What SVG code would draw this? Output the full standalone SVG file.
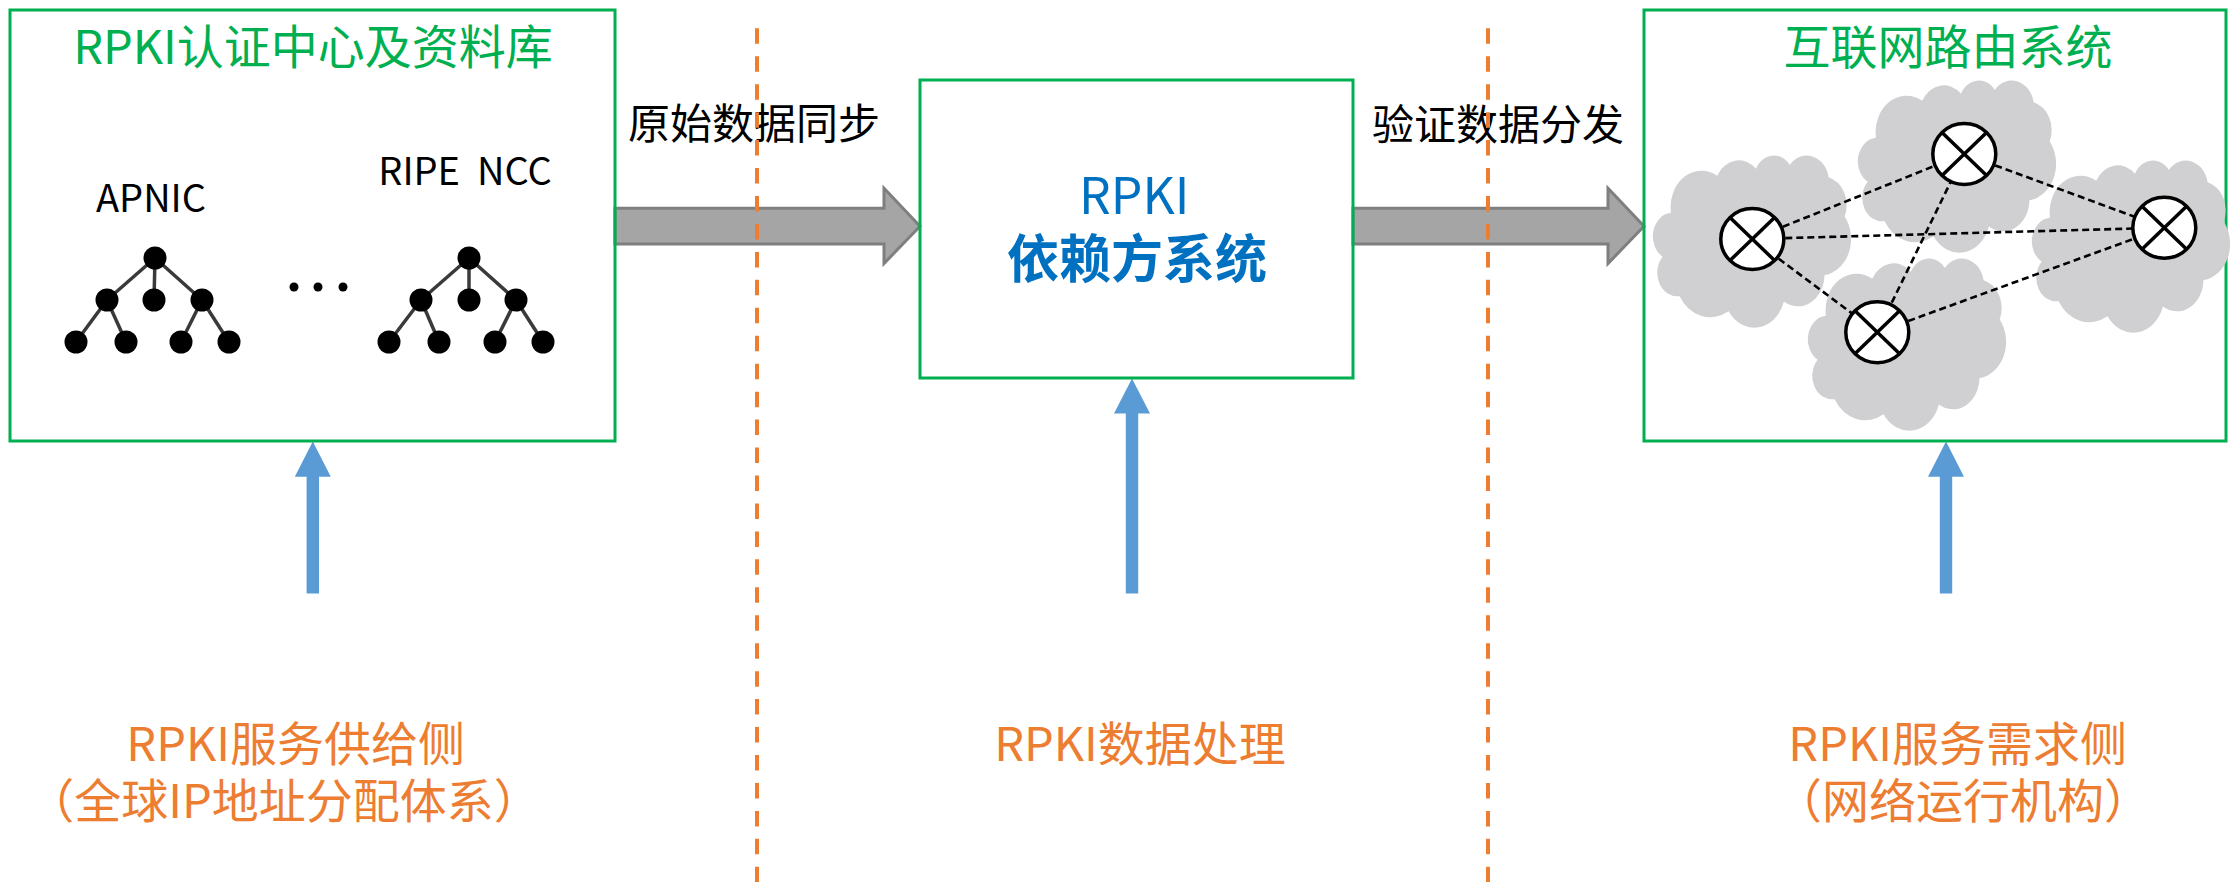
<svg xmlns="http://www.w3.org/2000/svg" xmlns:xlink="http://www.w3.org/1999/xlink" width="2233" height="882" viewBox="0 0 2233 882">
  <style>
    text { font-family: "Noto Sans CJK SC", "Noto Sans", sans-serif; }
    .box { fill: none; stroke: #00b050; stroke-width: 3; }
    .title { fill: #00b050; font-size: 47px; text-anchor: middle; }
    .org { fill: #000; font-size: 38px; text-anchor: middle; }
    .flow { fill: #a5a5a5; stroke: #7f7f7f; stroke-width: 3; stroke-linejoin: miter; }
    .flowlabel { fill: #000; font-size: 42px; text-anchor: middle; }
    .side { fill: #ed7d31; font-size: 47px; text-anchor: middle; }
    .up { fill: #5b9bd5; }
    .divider { stroke: #ed7d31; stroke-width: 4; stroke-dasharray: 15.5 12.45; fill: none; }
    .branch { stroke: #3a3a3a; stroke-width: 3.5; }
    .leaf { fill: #000; }
    .cloud { fill: #d0cfd1; }
    .link { stroke: #000; stroke-width: 2.6; stroke-dasharray: 7 4; fill: none; }
    .router { fill: #fff; stroke: #000; stroke-width: 3.5; }
    .cross { stroke: #000; stroke-width: 3.5; }
  </style>
  <defs>
    <!-- cloud outline, 43200-unit preset geometry scaled to 198 x 172 -->
    <path id="cloud" class="cloud" transform="scale(0.004583 0.003981)"
      d="M 3900 14370
         A 6753 9190 0 0 1 14004.6 5201.6
         A 5333 7267 0 0 1 22457.9 3432.7
         A 4365 5945 0 0 1 29835.1 2481.6
         A 4857 6595 0 0 1 38320.2 5577.0
         A 5333 7273 0 0 1 41820.7 15460.9
         A 6775 9220 0 0 1 37406.7 30204.0
         A 5785 7867 0 0 1 28557.8 36813.9
         A 6752 9215 0 0 1 16480.4 39260.5
         A 7720 10543 0 0 1 5803.8 35465.9
         A 4360 5918 0 0 1 2113.1 25543.3
         A 4345 5945 0 0 1 3863.3 14499.9 Z"/>
    <!-- router symbol: circle with a cross -->
    <g id="router">
      <ellipse class="router" cx="0" cy="0" rx="31.5" ry="30.5"/>
      <line class="cross" x1="-22.3" y1="-21.5" x2="22.3" y2="21.5"/>
      <line class="cross" x1="22.3" y1="-21.5" x2="-22.3" y2="21.5"/>
    </g>
  </defs>

  <rect width="2233" height="882" fill="#fff"/>

  <!-- flows between the three stages -->
  <g id="connectors">
    <polygon class="flow" points="615,208.3 884,208.3 884,188.3 920,226.2 884,263.5 884,244 615,244"/>
    <polygon class="flow" points="1353,208.3 1608,208.3 1608,188.3 1644,226.2 1608,263.5 1608,244 1353,244"/>
    <text class="flowlabel" x="754" y="139">原始数据同步</text>
    <text class="flowlabel" x="1498" y="140">验证数据分发</text>
    <polygon class="up" points="312.8,441.5 330.8,476.8 319,476.8 319,593.5 306.6,593.5 306.6,476.8 294.8,476.8"/>
    <polygon class="up" points="1132,378.5 1150,413.5 1138.2,413.5 1138.2,593.5 1125.8,593.5 1125.8,413.5 1114,413.5"/>
    <polygon class="up" points="1946,441.5 1964,476.8 1952.2,476.8 1952.2,593.5 1939.8,593.5 1939.8,476.8 1928,476.8"/>
  </g>

  <!-- certification authorities and repositories -->
  <g id="ca-repository">
    <rect class="box" x="10" y="10" width="605" height="431"/>
    <text class="title" x="313" y="64" font-size="46">RPKI认证中心及资料库</text>
    <text class="org" x="151" y="212">APNIC</text>
    <text class="org" x="465" y="185" xml:space="preserve">RIPE  NCC</text>
    <g id="tree-apnic">
      <line class="branch" x1="155" y1="258" x2="107" y2="300"/>
      <line class="branch" x1="155" y1="258" x2="154" y2="300"/>
      <line class="branch" x1="155" y1="258" x2="202" y2="300"/>
      <line class="branch" x1="107" y1="300" x2="76" y2="342"/>
      <line class="branch" x1="107" y1="300" x2="126" y2="342"/>
      <line class="branch" x1="202" y1="300" x2="181" y2="342"/>
      <line class="branch" x1="202" y1="300" x2="229" y2="342"/>
      <circle class="leaf" cx="155" cy="258" r="11.5"/>
      <circle class="leaf" cx="107" cy="300" r="11.5"/>
      <circle class="leaf" cx="154" cy="300" r="11.5"/>
      <circle class="leaf" cx="202" cy="300" r="11.5"/>
      <circle class="leaf" cx="76" cy="342" r="11.5"/>
      <circle class="leaf" cx="126" cy="342" r="11.5"/>
      <circle class="leaf" cx="181" cy="342" r="11.5"/>
      <circle class="leaf" cx="229" cy="342" r="11.5"/>
    </g>
    <g id="ellipsis">
      <circle class="leaf" cx="294" cy="287" r="4.5"/>
      <circle class="leaf" cx="318" cy="287" r="4.5"/>
      <circle class="leaf" cx="343" cy="287" r="4.5"/>
    </g>
    <g id="tree-ripe">
      <line class="branch" x1="469" y1="258" x2="421" y2="300"/>
      <line class="branch" x1="469" y1="258" x2="469" y2="300"/>
      <line class="branch" x1="469" y1="258" x2="516" y2="300"/>
      <line class="branch" x1="421" y1="300" x2="389" y2="342"/>
      <line class="branch" x1="421" y1="300" x2="439" y2="342"/>
      <line class="branch" x1="516" y1="300" x2="495" y2="342"/>
      <line class="branch" x1="516" y1="300" x2="543" y2="342"/>
      <circle class="leaf" cx="469" cy="258" r="11.5"/>
      <circle class="leaf" cx="421" cy="300" r="11.5"/>
      <circle class="leaf" cx="469" cy="300" r="11.5"/>
      <circle class="leaf" cx="516" cy="300" r="11.5"/>
      <circle class="leaf" cx="389" cy="342" r="11.5"/>
      <circle class="leaf" cx="439" cy="342" r="11.5"/>
      <circle class="leaf" cx="495" cy="342" r="11.5"/>
      <circle class="leaf" cx="543" cy="342" r="11.5"/>
    </g>
  </g>

  <!-- relying party -->
  <g id="relying-party">
    <rect class="box" x="920" y="80" width="433" height="298"/>
    <text fill="#0070c0" text-anchor="middle">
      <tspan x="1136" y="214" font-size="50">RPKI</tspan>
      <tspan x="1137" y="278" font-size="52" font-weight="bold">依赖方系统</tspan>
    </text>
  </g>

  <!-- internet routing system -->
  <g id="routing-system">
    <rect class="box" x="1644" y="10" width="582" height="431"/>
    <text class="title" x="1948" y="64">互联网路由系统</text>
    <use xlink:href="#cloud" x="1653" y="155"/>
    <use xlink:href="#cloud" x="1858" y="80"/>
    <use xlink:href="#cloud" x="2032" y="160"/>
    <use xlink:href="#cloud" x="1808" y="258"/>
    <g id="links">
      <line class="link" x1="1752.3" y1="239" x2="1964.3" y2="154"/>
      <line class="link" x1="1752.3" y1="239" x2="2164.3" y2="227.7"/>
      <line class="link" x1="1752.3" y1="239" x2="1877.3" y2="332.3"/>
      <line class="link" x1="1877.3" y1="332.3" x2="1964.3" y2="154"/>
      <line class="link" x1="1964.3" y1="154" x2="2164.3" y2="227.7"/>
      <line class="link" x1="1877.3" y1="332.3" x2="2164.3" y2="227.7"/>
    </g>
    <use xlink:href="#router" x="1752.3" y="239"/>
    <use xlink:href="#router" x="1964.3" y="154"/>
    <use xlink:href="#router" x="2164.3" y="227.7"/>
    <use xlink:href="#router" x="1877.3" y="332.3"/>
  </g>

  <!-- stage captions -->
  <g id="supply-side">
    <text class="side">
      <tspan x="301" y="761">RPKI服务供给侧</tspan>
      <tspan x="284" y="818">（全球IP地址分配体系）</tspan>
    </text>
  </g>
  <g id="processing">
    <text class="side" x="1140" y="761">RPKI数据处理</text>
  </g>
  <g id="demand-side">
    <text class="side">
      <tspan x="1963" y="761">RPKI服务需求侧</tspan>
      <tspan x="1963" y="818">（网络运行机构）</tspan>
    </text>
  </g>

  <!-- stage separators -->
  <g id="separators">
    <line class="divider" x1="757" y1="28.3" x2="757" y2="882"/>
    <line class="divider" x1="1488" y1="28.3" x2="1488" y2="882"/>
  </g>
</svg>
